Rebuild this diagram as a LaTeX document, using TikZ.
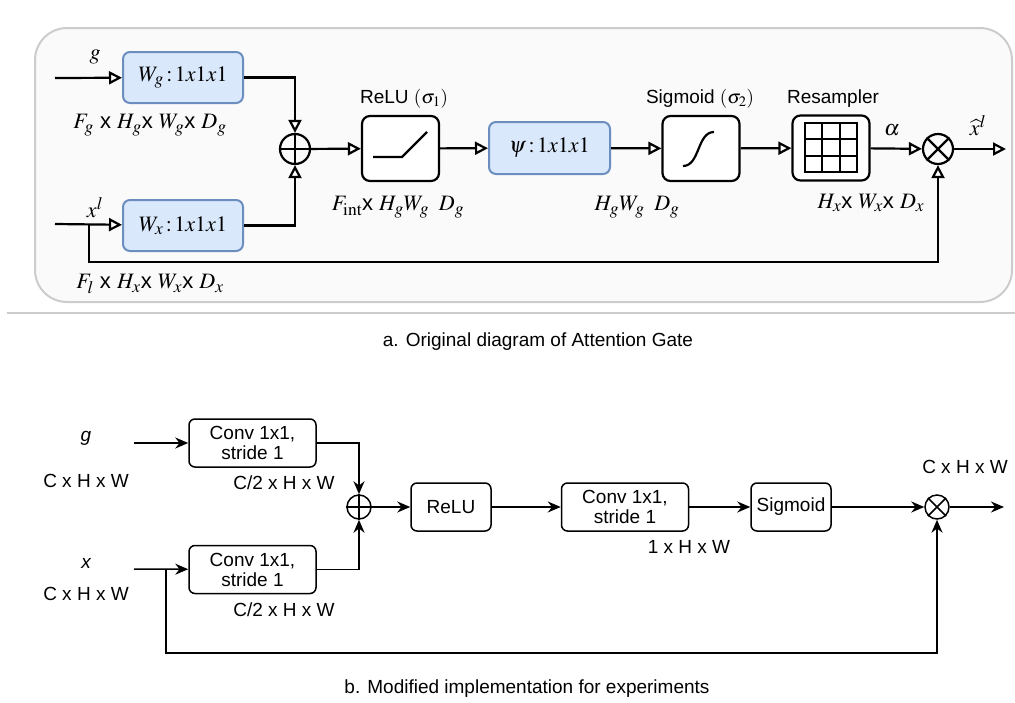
\documentclass[tikz,border=0pt]{standalone}
\usepackage{mathptmx}
\usepackage{fontspec}
\setmainfont{Liberation Sans}
\DeclareMathSizes{22}{22}{17.5}{13}
\DeclareMathSizes{19}{19}{14.5}{11}
\usetikzlibrary{arrows.meta}
\definecolor{bluefill}{HTML}{DAE8FC}
\definecolor{blueline}{HTML}{6C8EBF}
\definecolor{panelfill}{HTML}{FAFAFA}
\definecolor{panelline}{HTML}{CCCCCC}
\tikzset{
  oarr/.style={-{Triangle[open,length=13pt,width=13pt,fill=white]}, line width=2.2pt},
  farr/.style={-{Stealth[length=13pt,width=11pt]}, line width=1.5pt},
  bluebox/.style={draw=blueline, fill=bluefill, line width=2pt, rounded corners=7pt, minimum width=120pt, minimum height=51pt, inner sep=0pt, font=\fontsize{22}{24}\selectfont},
  actbox/.style={draw=black, fill=white, line width=2.2pt, rounded corners=8pt, minimum width=77pt, minimum height=65pt, inner sep=0pt},
  convbox/.style={draw=black, fill=white, line width=1.5pt, rounded corners=6pt, minimum width=127pt, minimum height=48pt, inner sep=0pt, align=center, font=\fontsize{19}{20}\selectfont},
  smallbox/.style={draw=black, fill=white, line width=1.5pt, rounded corners=6pt, minimum width=80pt, minimum height=48pt, inner sep=0pt, font=\fontsize{19}{20}\selectfont},
  mlab/.style={font=\fontsize{22}{24}\selectfont, inner sep=0pt},
  slab/.style={font=\fontsize{19}{21}\selectfont, inner sep=0pt},
  opcirc/.style={draw=black, circle, line width=2.2pt, minimum size=30pt, inner sep=0pt},
  opcircb/.style={draw=black, circle, line width=1.5pt, minimum size=24pt, inner sep=0pt},
}
\begin{document}
\begin{tikzpicture}[x=1pt,y=-1pt]
\useasboundingbox (0,0) rectangle (1015,702);
% panel a
\draw[draw=panelline, fill=panelfill, line width=2pt, rounded corners=32pt] (35,28) rectangle (1012,302);
\draw[draw=panelline, line width=1.5pt] (7,313) -- (1015,313);
\node[slab] (capa) at (538,342) {a. Original diagram of Attention Gate};

\node[bluebox] (wg) at (183,77.5) {$W_g\,{:}\,1x1x1$};
\node[bluebox] (wx) at (183,225.5) {$W_x\,{:}\,1x1x1$};
\coordinate (gin) at (55,78);
\coordinate (xin) at (55,224);
\coordinate (br) at (89,224);
\coordinate (brd) at (89,262);
\node[mlab] (glab) at (95,57) {$g$};
\node[mlab] (xllab) at (95,208) {$x^l$};
\node[mlab] (fglab) at (150,125) {$F_g$ x $H_g$x $W_g$x $D_g$};
\node[mlab] (fllab) at (150,284) {$F_l$ x $H_x$x $W_x$x $D_x$};

\node[opcirc] (sum) at (295,149) {};
\draw[line width=2.2pt] (sum.north) -- (sum.south) (sum.west) -- (sum.east);

\node[actbox] (relu) at (400.5,148.5) {};
\draw[line width=2.2pt] (373,157) -- (402,157) -- (427,132);
\node[slab] (relulab) at (404,99) {ReLU $(\sigma_1)$};

\node[bluebox, minimum width=121pt, minimum height=52pt] (psi) at (549.5,148) {$\psi\,{:}\,1x1x1$};

\node[actbox] (sig) at (701,148.5) {};
\draw[line width=2.2pt] (683,166) .. controls (700,166) and (697,132) .. (714,132);
\node[slab] (siglab) at (700,99) {Sigmoid $(\sigma_2)$};

\node[actbox] (res) at (831,148) {};
\draw[line width=2.2pt] (805,123) rectangle (857,172);
\foreach \i in {1,2}{
  \draw[line width=2.2pt] (805+17.33*\i,123) -- (805+17.33*\i,172);
  \draw[line width=2.2pt] (805,123+16.33*\i) -- (857,123+16.33*\i);
}
\node[slab] (reslab) at (833,99) {Resampler};

\node[opcirc] (mul) at (938,149) {};
\draw[line width=2.2pt] (mul.north east) -- (mul.south west) (mul.north west) -- (mul.south east);
\coordinate (out) at (1006,149);
\node[mlab] (alab) at (892,130) {$\alpha$};
\node[mlab] (xhlab) at (978,126) {$\widehat{x}^l$};

\node[mlab] (fintlab) at (398,207) {$F_{\mathrm{int}}$x $H_g W_g\;\; D_g$};
\node[mlab] (hglab) at (637,207) {$H_g W_g\;\; D_g$};
\node[mlab] (hxlab) at (871,203) {$H_x$x $W_x$x $D_x$};

\draw[oarr] (gin) -- (wg);
\draw[oarr] (xin) -- (wx);
\draw[oarr] (wg.east) -| (sum.north);
\draw[oarr] (wx.east) -| (sum.south);
\draw[oarr] (sum) -- (relu);
\draw[oarr] (relu) -- (psi);
\draw[oarr] (psi) -- (sig);
\draw[oarr] (sig) -- (res);
\draw[oarr] (res) -- (mul);
\draw[oarr] (mul) -- (out);
\draw[oarr] (br) -- (brd) -| (mul.south);

% panel b
\node[convbox] (c1) at (252.5,443) {Conv 1x1,\\stride 1};
\node[convbox] (c2) at (252.5,569.5) {Conv 1x1,\\stride 1};
\coordinate (gin2) at (134,443);
\coordinate (xin2) at (134,569);
\coordinate (br2) at (166,569);
\coordinate (br2d) at (166,653);
\node[slab] (g2lab) at (86,438) {\itshape g};
\node[slab] (x2lab) at (86,563) {\itshape x};
\node[slab] (chw1) at (86,481) {C x H x W};
\node[slab] (chw2) at (86,594) {C x H x W};
\node[slab] (c2hw1) at (284,483) {C/2 x H x W};
\node[slab] (c2hw2) at (284,610) {C/2 x H x W};

\node[opcircb] (sum2) at (359,507) {};
\draw[line width=1.5pt] (sum2.north) -- (sum2.south) (sum2.west) -- (sum2.east);
\node[smallbox] (relu2) at (451,507) {ReLU};
\node[convbox] (c3) at (625,507) {Conv 1x1,\\stride 1};
\node[slab] (ohw) at (689,547) {1 x H x W};
\node[smallbox] (sig2) at (791,507) {Sigmoid};
\node[opcircb] (mul2) at (937,507) {};
\draw[line width=1.5pt] (mul2.north east) -- (mul2.south west) (mul2.north west) -- (mul2.south east);
\node[slab] (chw3) at (965,467) {C x H x W};
\coordinate (out2) at (1004,507);
\node[slab] (capb) at (527,689) {b. Modified implementation for experiments};

\draw[farr] (gin2) -- (c1);
\draw[farr] (xin2) -- (c2);
\draw[farr] (c1.east) -| (sum2.north);
\draw[farr] (c2.east) -| (sum2.south);
\draw[farr] (sum2) -- (relu2);
\draw[farr] (relu2) -- (c3);
\draw[farr] (c3) -- (sig2);
\draw[farr] (sig2) -- (mul2);
\draw[farr] (mul2) -- (out2);
\draw[farr] (br2) -- (br2d) -| (mul2.south);
\end{tikzpicture}
\end{document}
